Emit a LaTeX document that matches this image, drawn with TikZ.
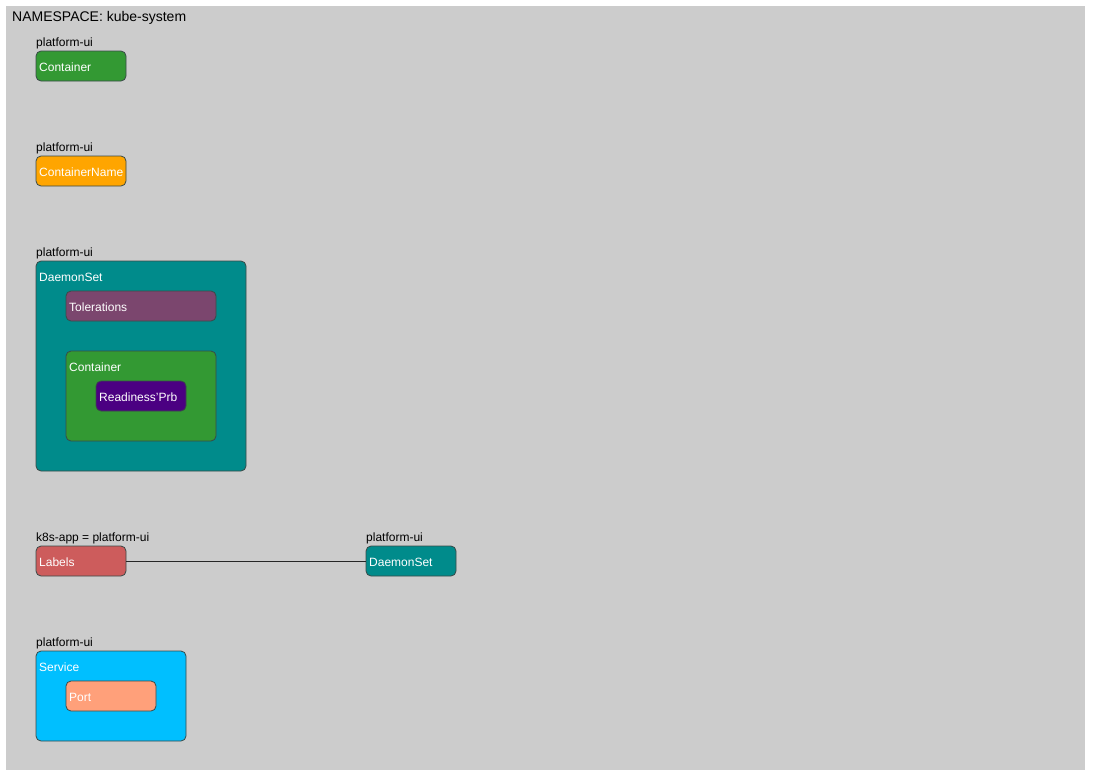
\documentclass[tikz,border=0pt]{standalone}
\usepackage{fontspec}
\setmainfont{Liberation Sans}
\definecolor{bggray}{HTML}{CCCCCC}
\definecolor{cgreen}{HTML}{339933}
\definecolor{corange}{HTML}{FFA500}
\definecolor{cteal}{HTML}{008B8B}
\definecolor{cpurple}{HTML}{7B466E}
\definecolor{cindigo}{HTML}{4B0082}
\definecolor{cred}{HTML}{CD5C5C}
\definecolor{cblue}{HTML}{00BFFF}
\definecolor{csalmon}{HTML}{FFA07A}
\definecolor{cborder}{HTML}{3A4A48}
\tikzset{
  kbox/.style={draw=cborder, line width=0.8pt, rounded corners=5pt, anchor=north west, inner sep=0pt, outer sep=0pt},
  ktxt/.style={text=white, font=\fontsize{12}{14}\selectfont, anchor=base west, inner sep=0pt},
  klbl/.style={text=black, font=\fontsize{12}{14}\selectfont, anchor=base west, inner sep=0pt},
}
\begin{document}
\begin{tikzpicture}[x=1pt,y=-1pt]
\useasboundingbox (0,0) rectangle (1097,777);
\fill[bggray] (6,6) rectangle (1085,770);
\node[klbl, font=\fontsize{14}{16}\selectfont] (title) at (12,21) {NAMESPACE: kube-system};

% Container
\node[kbox, fill=cgreen, minimum width=90pt, minimum height=30pt] (c1) at (36,51) {};
\node[klbl] (c1l) at ([yshift=5pt]c1.north west) {platform-ui};
\node[ktxt] (c1t) at ([xshift=3pt,yshift=-20.5pt]c1.north west) {Container};

% ContainerName
\node[kbox, fill=corange, minimum width=90pt, minimum height=30pt] (cn) at (36,156) {};
\node[klbl] (cnl) at ([yshift=5pt]cn.north west) {platform-ui};
\node[ktxt] (cnt) at ([xshift=3pt,yshift=-20.5pt]cn.north west) {ContainerName};

% DaemonSet group
\node[kbox, fill=cteal, minimum width=210pt, minimum height=210pt] (ds) at (36,261) {};
\node[klbl] (dsl) at ([yshift=5pt]ds.north west) {platform-ui};
\node[ktxt] (dst) at ([xshift=3pt,yshift=-20.5pt]ds.north west) {DaemonSet};
\node[kbox, fill=cpurple, minimum width=150pt, minimum height=30pt] (tol) at (66,291) {};
\node[ktxt] (tolt) at ([xshift=3pt,yshift=-20.5pt]tol.north west) {Tolerations};
\node[kbox, fill=cgreen, minimum width=150pt, minimum height=90pt] (c2) at (66,351) {};
\node[ktxt] (c2t) at ([xshift=3pt,yshift=-20.5pt]c2.north west) {Container};
\node[kbox, fill=cindigo, minimum width=90pt, minimum height=30pt] (rp) at (96,381) {};
\node[ktxt] (rpt) at ([xshift=3pt,yshift=-20.5pt]rp.north west) {Readiness'Prb};

% Labels -> DaemonSet
\node[kbox, fill=cred, minimum width=90pt, minimum height=30pt] (lab) at (36,546) {};
\node[klbl] (labl) at ([yshift=5pt]lab.north west) {k8s-app = platform-ui};
\node[ktxt] (labt) at ([xshift=3pt,yshift=-20.5pt]lab.north west) {Labels};
\node[kbox, fill=cteal, minimum width=90pt, minimum height=30pt] (ds2) at (366,546) {};
\node[klbl] (ds2l) at ([yshift=5pt]ds2.north west) {platform-ui};
\node[ktxt] (ds2t) at ([xshift=3pt,yshift=-20.5pt]ds2.north west) {DaemonSet};
\draw[line width=1pt, draw=black!85] (lab.east) -- (ds2.west);

% Service
\node[kbox, fill=cblue, minimum width=150pt, minimum height=90pt] (svc) at (36,651) {};
\node[klbl] (svcl) at ([yshift=5pt]svc.north west) {platform-ui};
\node[ktxt] (svct) at ([xshift=3pt,yshift=-20.5pt]svc.north west) {Service};
\node[kbox, fill=csalmon, minimum width=90pt, minimum height=30pt] (port) at (66,681) {};
\node[ktxt] (portt) at ([xshift=3pt,yshift=-20.5pt]port.north west) {Port};
\end{tikzpicture}
\end{document}
